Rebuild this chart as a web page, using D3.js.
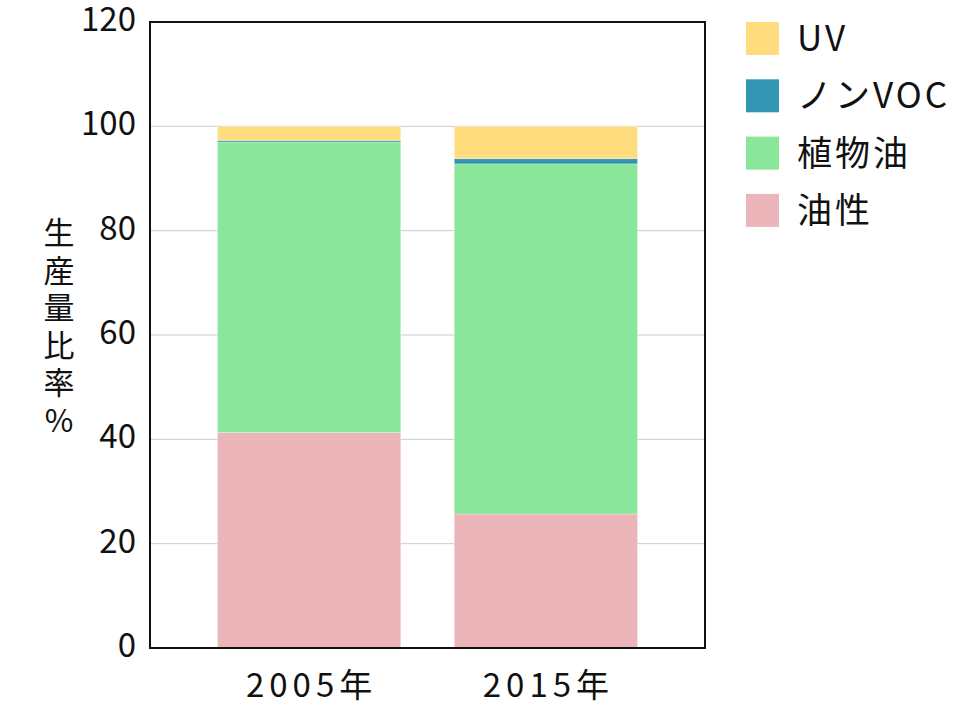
<!DOCTYPE html>
<html><head><meta charset="utf-8">
<script src="https://cdn.jsdelivr.net/npm/d3@7/dist/d3.min.js"></script>
<style>body{margin:0;background:#fff;} text{font-family:"Noto Sans CJK JP","Noto Sans",sans-serif;fill:#111;}</style>
</head><body><svg id="c" width="954" height="716"></svg>
<script>
const categories = ["2005年", "2015年"];
const seriesNames = ["油性", "植物油", "ノンVOC", "UV"];
const oilBased = [41.3, 25.7];
const vegetableOil = [55.7, 67.1];
const nonVOC = [0.3, 1.0];
const uv = [2.7, 6.2];
const yTicks = [0, 20, 40, 60, 80, 100, 120];
const colors = ["#ecb5b9", "#8ae69a", "#3397b4", "#ffdd7f"];
const yTitle = "生産量比率%";

const values = [oilBased, vegetableOil, nonVOC, uv];
const table = categories.map((c, i) => {
  const row = {cat: c};
  seriesNames.forEach((s, k) => row[s] = values[k][i]);
  return row;
});

const svg = d3.select("#c");
const m = {l: 150, t: 22, r: 705, b: 648};
const x = d3.scaleBand().domain(categories).range([m.l, m.r]).paddingInner(0.226).paddingOuter(0.285);
const y = d3.scaleLinear().domain([0, 120]).range([m.b, m.t]);

// gridlines
svg.append("g").selectAll("line").data(yTicks.filter(t => t > 0 && t < 120)).join("line")
  .attr("x1", m.l).attr("x2", m.r).attr("y1", d => y(d)).attr("y2", d => y(d))
  .attr("stroke", "#cccccc").attr("stroke-width", 1);

const stack = d3.stack().keys(seriesNames)(table);
svg.append("g").selectAll("g").data(stack).join("g")
  .attr("fill", (d, i) => colors[i])
  .selectAll("rect").data(d => d).join("rect")
  .attr("x", d => x(d.data.cat)).attr("width", x.bandwidth())
  .attr("y", d => y(d[1])).attr("height", d => y(d[0]) - y(d[1]))
  .attr("stroke", "#ffffff").attr("stroke-opacity", 0.35).attr("stroke-width", 0.8);

// frame
svg.append("rect").attr("x", m.l).attr("y", m.t).attr("width", m.r - m.l).attr("height", m.b - m.t)
  .attr("fill", "none").attr("stroke", "#111").attr("stroke-width", 2);

// y axis
const ya = svg.append("g").attr("transform", `translate(${m.l},0)`)
  .call(d3.axisLeft(y).tickValues(yTicks).tickSize(0).tickPadding(14));
ya.select(".domain").remove();
ya.selectAll("text").attr("font-size", 33)
  .attr("font-family", '"Noto Sans CJK JP",sans-serif').attr("fill", "#111").attr("dy", "0.26em");

// x axis
const xa = svg.append("g").attr("transform", `translate(0,${m.b})`)
  .call(d3.axisBottom(x).tickSize(0));
xa.select(".domain").remove();
xa.selectAll("text").attr("font-size", 33).attr("letter-spacing", "5px")
  .attr("font-family", '"DejaVu Sans","Noto Sans CJK JP",sans-serif').attr("fill", "#111")
  .attr("y", 49).attr("dy", 0).attr("x", 2.5);

// y title, vertical
svg.append("text").attr("x", 59).attr("y", 217)
  .attr("writing-mode", "tb").style("text-orientation", "upright")
  .attr("letter-spacing", "6.5px").attr("font-size", 31).text(yTitle);

// legend
const legendOrder = [3, 2, 1, 0];
const lg = svg.append("g").selectAll("g").data(legendOrder).join("g")
  .attr("transform", (d, i) => `translate(746,${22 + i * 57.3})`);
lg.append("rect").attr("width", 33).attr("height", 33).attr("fill", d => colors[d]);
lg.append("text").attr("x", 51).attr("y", 16.5).attr("dy", "0.36em")
  .attr("font-size", 35).attr("letter-spacing", "3px").text(d => seriesNames[d]);
</script></body></html>
